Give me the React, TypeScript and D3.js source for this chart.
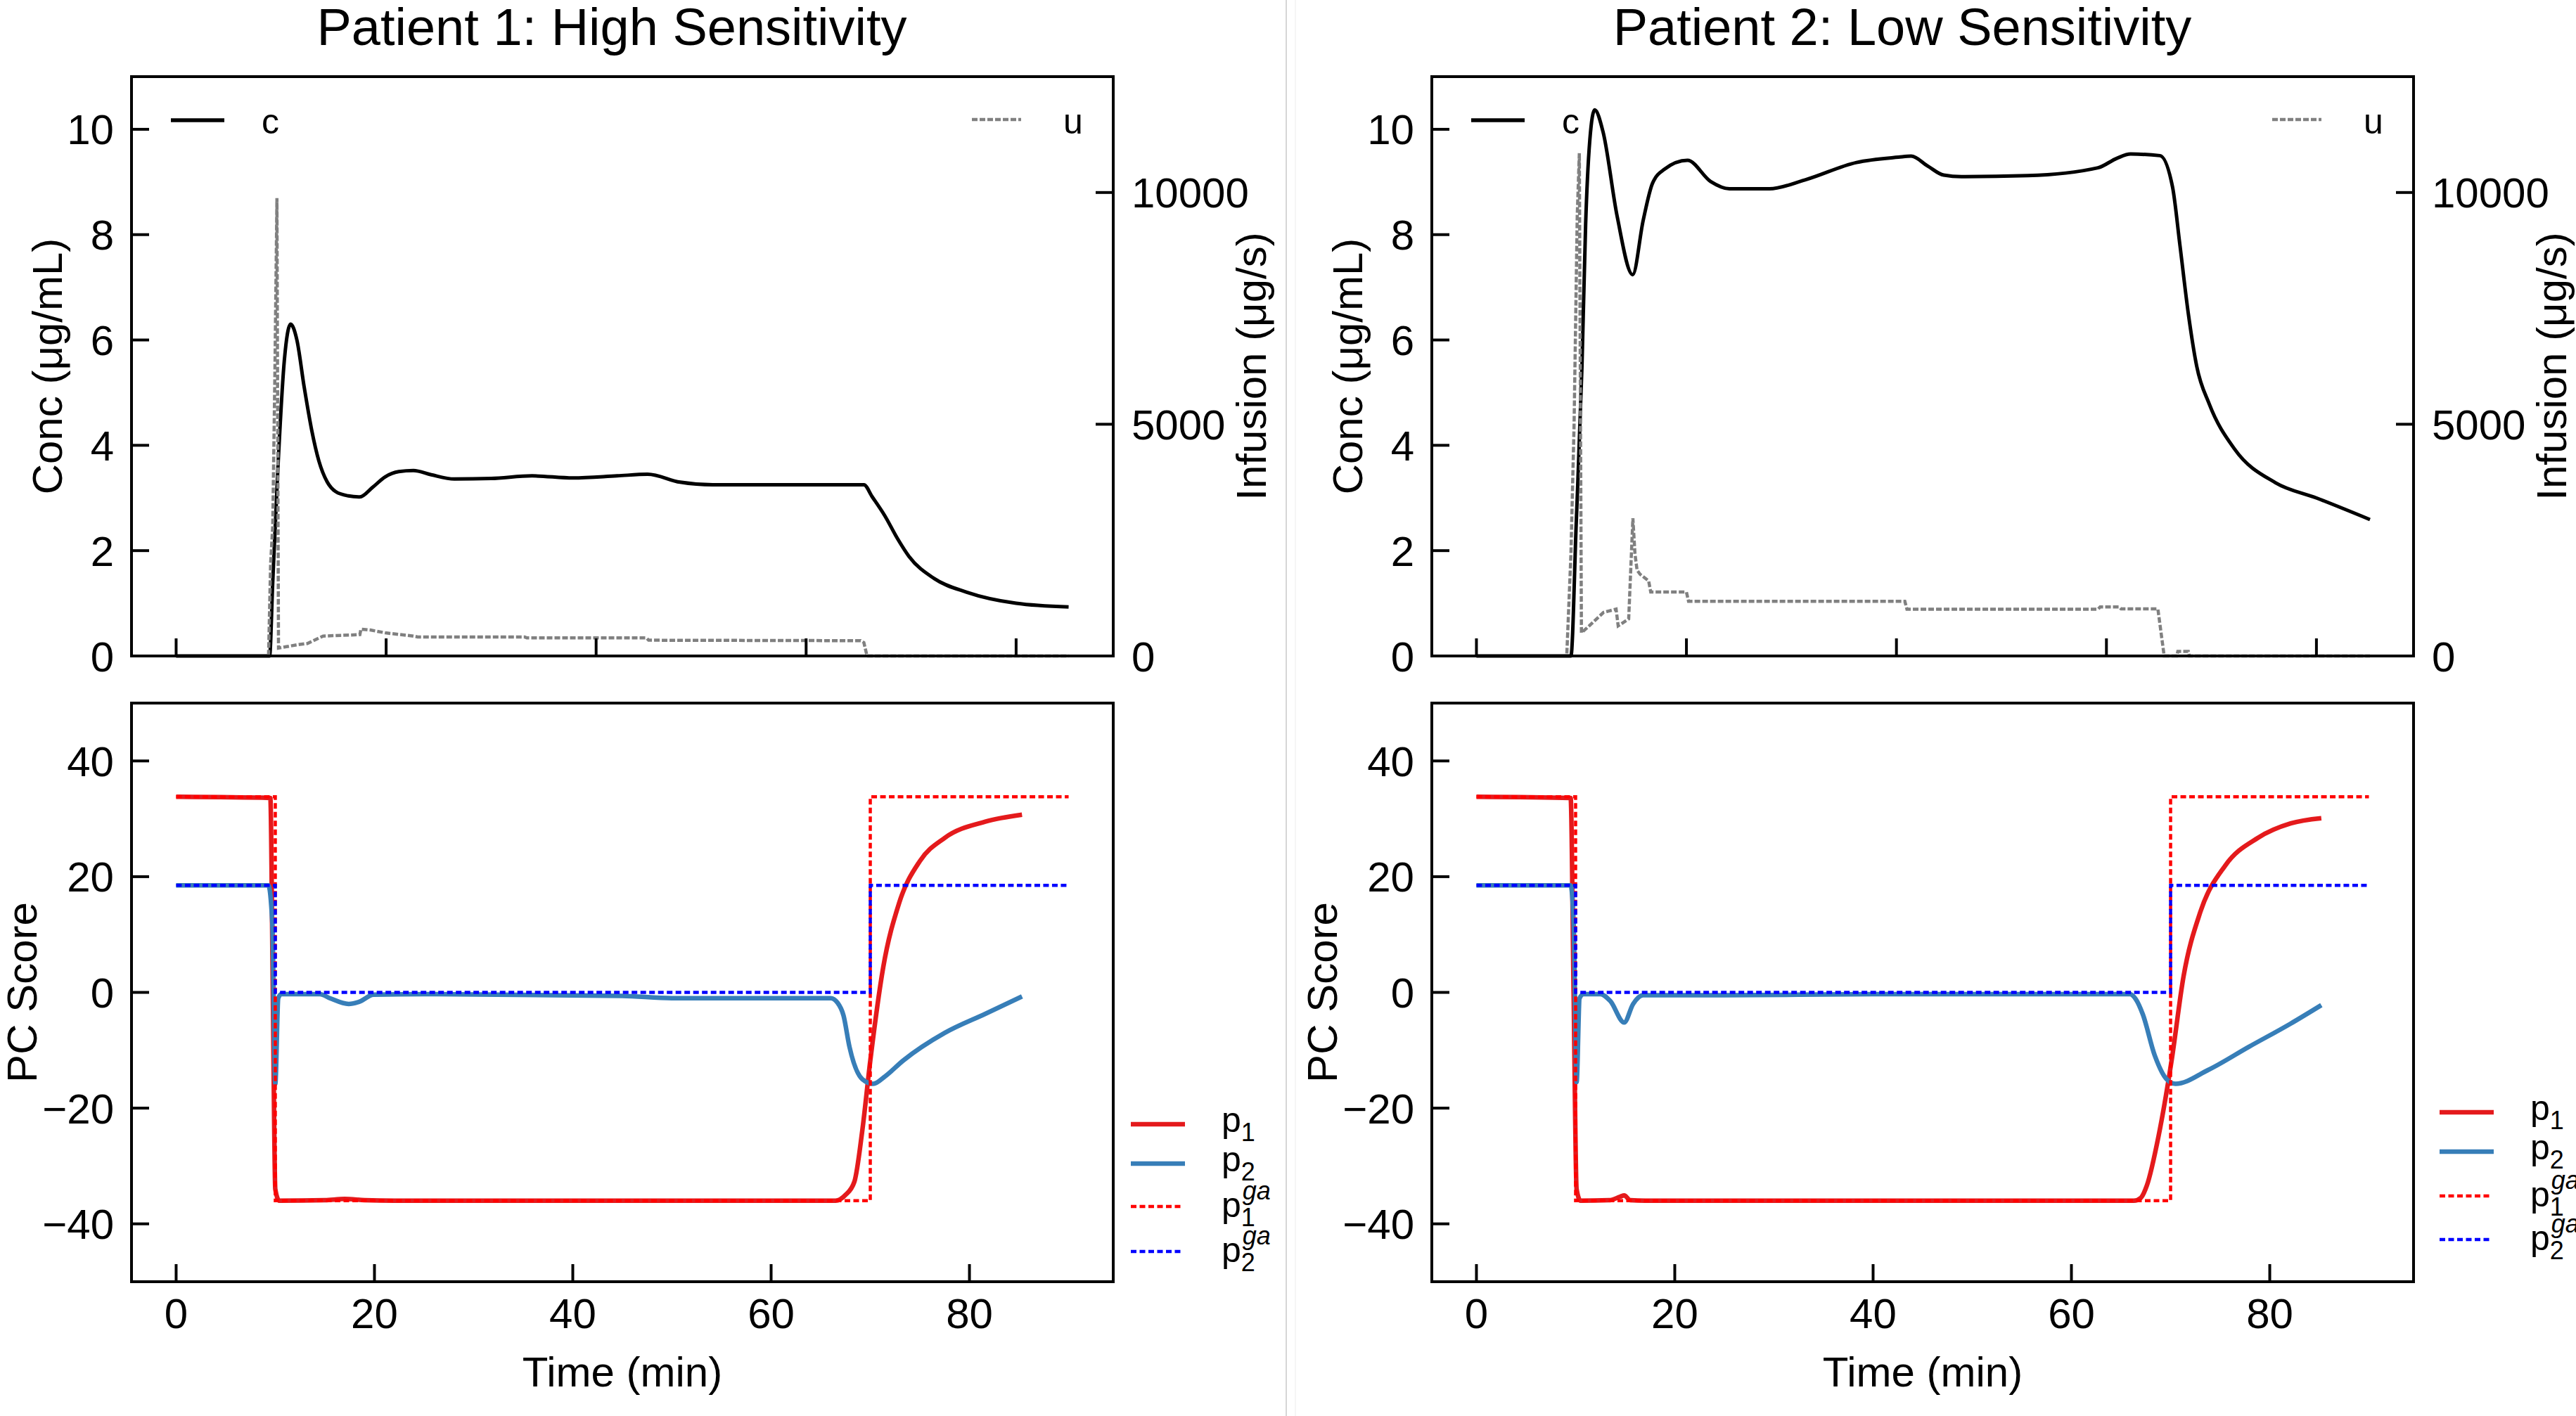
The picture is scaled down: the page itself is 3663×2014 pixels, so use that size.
import React from "react";
import * as d3 from "d3";

type Pt = [number, number];

const W = 3663;
const H = 2014;
const FONT = "'Liberation Sans', Arial, Helvetica, sans-serif";

// ---------- tick labels ----------
const concTicks = [0, 2, 4, 6, 8, 10];
const infusionTicks = [0, 5000, 10000];
const pcTicks = [-40, -20, 0, 20, 40];
const timeTicks = [0, 20, 40, 60, 80];

const titles = ["Patient 1: High Sensitivity", "Patient 2: Low Sensitivity"];

// ---------- Patient 1 ----------
const patient1Conc: Pt[] = [
  [0, 0], [8.9, 0], [9.2, 1.4], [9.7, 3.6], [10.3, 5.6], [10.9, 6.3], [11.5, 6.0],
  [12.2, 5.1], [12.9, 4.3], [13.6, 3.7], [14.4, 3.3], [15.2, 3.12], [16.4, 3.04], [17.5, 3.02],
  [18.7, 3.2], [19.9, 3.4], [21.2, 3.5], [22.6, 3.52], [24.3, 3.44], [26.5, 3.36],
  [30, 3.37], [33.9, 3.42], [37.8, 3.38], [42, 3.42], [44.9, 3.45], [48, 3.3],
  [51.1, 3.25], [65.5, 3.25], [66.3, 3.02], [67.5, 2.66], [68.7, 2.23], [69.8, 1.89],
  [72.2, 1.47], [75.3, 1.21], [80, 1.0], [85, 0.93],
];
const patient1Infusion: Pt[] = [
  [0, 0], [8.8, 0], [9.0, 2000], [9.2, 2800], [9.4, 6000], [9.6, 9880], [9.75, 170],
  [10.5, 200], [11.5, 240], [12.5, 270], [14.0, 430], [17.5, 460], [17.6, 580],
  [18.5, 560], [19.9, 500], [22.6, 430], [23, 410], [33.2, 410], [33.4, 390],
  [44.8, 390], [45, 340], [65.2, 330], [65.5, 290], [65.8, 0], [85, 0],
];
const patient1P1: Pt[] = [
  [0, 33.8], [9.5, 33.6], [9.75, 0], [10.0, -34], [10.4, -36.0], [15, -35.9],
  [17, -35.7], [19, -35.9], [22, -36.0], [66.5, -36.0], [67.5, -35], [68.4, -32.7],
  [69.2, -23.8], [70.0, -11.8], [71.3, 4.3], [72.9, 15.4], [75, 22.7], [77.5, 26.7],
  [81.6, 29.5], [85.3, 30.7],
];
const patient1P2: Pt[] = [
  [0, 18.5], [9.3, 18.5], [9.7, 12], [10.0, -15.8], [10.3, -1], [10.6, -0.3],
  [14.5, -0.3], [15.5, -1.0], [17.4, -2.0], [18.5, -1.6], [19.9, -0.4], [25, -0.3],
  [45, -0.6], [50, -1.0], [66, -1.0], [66.7, -1.8], [67.3, -4], [67.9, -9.4],
  [69.2, -15], [70.3, -15.8], [71.5, -14.5], [73.3, -11.8], [77.5, -7.0],
  [81.6, -3.7], [85.3, -0.7],
];

// ---------- Patient 2 ----------
const patient2Conc: Pt[] = [
  [0, 0], [9.0, 0], [9.5, 2.5], [10.05, 5.5], [10.4, 8.2], [10.8, 9.8], [11.26, 10.37],
  [12.06, 9.95], [13.4, 8.35], [14.88, 7.24], [15.88, 8.27], [16.76, 8.97],
  [17.9, 9.24], [20.1, 9.41], [22.3, 9.01], [24.1, 8.87], [27.9, 8.87], [31.3, 9.04],
  [36.2, 9.37], [40.2, 9.47], [41.4, 9.49], [43, 9.3], [44.5, 9.13], [46.2, 9.1],
  [52.5, 9.12], [59.2, 9.27], [61, 9.45], [62.3, 9.53], [65.1, 9.5], [66.3, 8.9],
  [67, 7.8], [67.8, 6.5], [68.6, 5.5], [69.8, 4.78], [72.2, 3.93], [76.1, 3.29],
  [80, 3.0], [85.1, 2.59],
];
const patient2Infusion: Pt[] = [
  [0, 0], [8.6, 0], [9.0, 2200], [9.3, 5000], [9.6, 9500], [9.8, 10850], [10.0, 500],
  [10.5, 600], [12.1, 940], [13.3, 1010], [13.5, 650], [14.5, 800], [14.9, 2970],
  [15.1, 2200], [15.3, 1850], [15.6, 1760], [16.4, 1620], [16.6, 1380], [20.0, 1380],
  [20.2, 1180], [40.8, 1180], [41.0, 1010], [59.2, 1010], [59.4, 1060], [61.2, 1060],
  [61.4, 1015], [64.9, 1015], [65.5, 0], [66.7, 0], [66.8, 100], [67.8, 100],
  [67.9, 0], [85.1, 0],
];
const patient2P1: Pt[] = [
  [0, 33.8], [9.5, 33.6], [9.8, 0], [10.1, -34], [10.5, -36.0], [13.5, -35.9],
  [14.5, -35.3], [14.9, -35.1], [15.5, -35.9], [17, -36.0], [66.3, -36.0],
  [67.0, -35.5], [67.6, -33.4], [68.8, -24.7], [70.1, -11.8], [71.3, 2.7],
  [73.0, 13.9], [75.5, 21.9], [78.8, 26.7], [82.1, 29.2], [85.2, 30.1],
];
const patient2P2: Pt[] = [
  [0, 18.5], [9.5, 18.5], [9.8, 12], [10.1, -15.5], [10.4, -1], [10.8, -0.3],
  [12.5, -0.3], [13.5, -1.5], [14.9, -5.2], [15.8, -2.0], [16.8, -0.5], [25, -0.5],
  [40, -0.3], [65.9, -0.3], [66.5, -1.2], [67.2, -3.8], [68.4, -10.9], [69.6, -15.0],
  [70.5, -15.8], [73.8, -13.4], [77.9, -9.4], [82.1, -5.4], [85.2, -2.2],
];

// ---------- GA reference (same for both patients) ----------
const gaSwitchTimes = [10, 70];
const gaEndTime = 90;
const p1GaLevels = [33.8, -36.0];
const p2GaLevels = [18.5, 0];

function gaPath(levels: number[]): Pt[] {
  const [hi, lo] = levels;
  const [t1, t2] = gaSwitchTimes;
  return [[0, hi], [t1, hi], [t1, lo], [t2, lo], [t2, hi], [gaEndTime, hi]];
}

const RED = "#e41a1c";
const BLUE = "#377eb8";

const TOP_Y0 = 109;
const TOP_Y1 = 933;
const BOT_Y0 = 1000;
const BOT_Y1 = 1823;

const TICK_FS = 60;
const LEG_FS = 50;
const SUB_FS = 36;
const GA_DASH = "8 4.5";
const U_DASH = "8 3";

interface PanelProps {
  left: number;
  right: number;
  titleX: number;
  title: string;
  conc: Pt[];
  inf: Pt[];
  p1: Pt[];
  p2: Pt[];
  legX: number;
  legTextX: number;
  legRows: number[];
}

function Sub({ x, y, base, sub, sup }: { x: number; y: number; base: string; sub: string; sup?: string }) {
  const pW = 0.556 * LEG_FS;
  return (
    <g>
      <text x={x} y={y} fontSize={LEG_FS}>{base}</text>
      <text x={x + pW} y={y + 13} fontSize={SUB_FS}>{sub}</text>
      {sup && (
        <text x={x + pW + 2} y={y - 25} fontSize={SUB_FS} fontStyle="italic">{sup}</text>
      )}
    </g>
  );
}

function Panel(props: PanelProps) {
  const { left, right, titleX, title, conc, inf, p1, p2, legX, legTextX, legRows } = props;
  const xT = d3.scaleLinear().domain([-4.25, 89.25]).range([left, right]);
  const xB = d3.scaleLinear().domain([-4.5, 94.5]).range([left, right]);
  const yC = d3.scaleLinear().domain([0, 11]).range([TOP_Y1, TOP_Y0]);
  const yU = d3.scaleLinear().domain([0, 12500]).range([TOP_Y1, TOP_Y0]);
  const yP = d3.scaleLinear().domain([-50, 50]).range([BOT_Y1, BOT_Y0]);

  const smoothTop = d3.line<Pt>().x((d) => xT(d[0])).y((d) => yC(d[1])).curve(d3.curveMonotoneX);
  const linU = d3.line<Pt>().x((d) => xT(d[0])).y((d) => yU(d[1]));
  const smoothBot = d3.line<Pt>().x((d) => xB(d[0])).y((d) => yP(d[1])).curve(d3.curveMonotoneX);
  const linBot = d3.line<Pt>().x((d) => xB(d[0])).y((d) => yP(d[1]));

  const cx = (left + right) / 2;
  const tickLen = 25;
  const tw = 4;
  const fmt = (v: number) => (v < 0 ? "\u2212" + Math.abs(v) : String(v));

  return (
    <g>
      <text x={titleX} y={64} fontSize={74} textAnchor="middle">{title}</text>

      {/* ---------- top panel ---------- */}
      <path d={smoothTop(conc) || ""} fill="none" stroke="#000" strokeWidth={5} strokeLinejoin="round" />
      <path d={linU(inf) || ""} fill="none" stroke="#808080" strokeWidth={4.5} strokeDasharray={U_DASH} />
      <rect x={left} y={TOP_Y0} width={right - left} height={TOP_Y1 - TOP_Y0} fill="none" stroke="#000" strokeWidth={4} />
      {timeTicks.map((t) => (
        <line key={"tt" + t} x1={xT(t)} x2={xT(t)} y1={TOP_Y1} y2={TOP_Y1 - tickLen} stroke="#000" strokeWidth={tw} />
      ))}
      {concTicks.map((v) => (
        <g key={"ct" + v}>
          <line x1={left} x2={left + tickLen} y1={yC(v)} y2={yC(v)} stroke="#000" strokeWidth={tw} />
          <text x={left - 25} y={yC(v) + 21.5} fontSize={TICK_FS} textAnchor="end">{fmt(v)}</text>
        </g>
      ))}
      {infusionTicks.map((v) => (
        <g key={"it" + v}>
          <line x1={right - tickLen} x2={right} y1={yU(v)} y2={yU(v)} stroke="#000" strokeWidth={tw} />
          <text x={right + 26} y={yU(v) + 21.5} fontSize={TICK_FS} textAnchor="start">{fmt(v)}</text>
        </g>
      ))}
      <text transform={`translate(${left - 99},${(TOP_Y0 + TOP_Y1) / 2}) rotate(-90)`} fontSize={TICK_FS} textAnchor="middle">Conc (μg/mL)</text>
      <text transform={`translate(${right + 217},${(TOP_Y0 + TOP_Y1) / 2}) rotate(-90)`} fontSize={TICK_FS} textAnchor="middle">Infusion (μg/s)</text>
      {/* top legends */}
      <line x1={left + 56} x2={left + 132} y1={171} y2={171} stroke="#000" strokeWidth={5.5} />
      <text x={left + 185} y={190} fontSize={LEG_FS}>c</text>
      <line x1={right - 201} x2={right - 131} y1={170} y2={170} stroke="#808080" strokeWidth={4.5} strokeDasharray={U_DASH} />
      <text x={right - 71} y={190} fontSize={LEG_FS}>u</text>

      {/* ---------- bottom panel ---------- */}
      <path d={smoothBot(p1) || ""} fill="none" stroke={RED} strokeWidth={6.5} strokeLinejoin="round" />
      <path d={smoothBot(p2) || ""} fill="none" stroke={BLUE} strokeWidth={6.5} strokeLinejoin="round" />
      <path d={linBot(gaPath(p1GaLevels)) || ""} fill="none" stroke="#ff0000" strokeWidth={4.5} strokeDasharray={GA_DASH} />
      <path d={linBot(gaPath(p2GaLevels)) || ""} fill="none" stroke="#0000ff" strokeWidth={4.5} strokeDasharray={GA_DASH} />
      <rect x={left} y={BOT_Y0} width={right - left} height={BOT_Y1 - BOT_Y0} fill="none" stroke="#000" strokeWidth={4} />
      {timeTicks.map((t) => (
        <g key={"bt" + t}>
          <line x1={xB(t)} x2={xB(t)} y1={BOT_Y1} y2={BOT_Y1 - tickLen} stroke="#000" strokeWidth={tw} />
          <text x={xB(t)} y={BOT_Y1 + 66} fontSize={TICK_FS} textAnchor="middle">{fmt(t)}</text>
        </g>
      ))}
      {pcTicks.map((v) => (
        <g key={"pt" + v}>
          <line x1={left} x2={left + tickLen} y1={yP(v)} y2={yP(v)} stroke="#000" strokeWidth={tw} />
          <text x={left - 25} y={yP(v) + 21.5} fontSize={TICK_FS} textAnchor="end">{fmt(v)}</text>
        </g>
      ))}
      <text transform={`translate(${left - 135},${(BOT_Y0 + BOT_Y1) / 2}) rotate(-90)`} fontSize={TICK_FS} textAnchor="middle">PC Score</text>
      <text x={cx} y={1972} fontSize={TICK_FS} textAnchor="middle">Time (min)</text>

      {/* bottom legend */}
      <line x1={legX} x2={legX + 77} y1={legRows[0]} y2={legRows[0]} stroke={RED} strokeWidth={6.5} />
      <line x1={legX} x2={legX + 77} y1={legRows[1]} y2={legRows[1]} stroke={BLUE} strokeWidth={6.5} />
      <line x1={legX} x2={legX + 72} y1={legRows[2]} y2={legRows[2]} stroke="#ff0000" strokeWidth={4.5} strokeDasharray={GA_DASH} />
      <line x1={legX} x2={legX + 72} y1={legRows[3]} y2={legRows[3]} stroke="#0000ff" strokeWidth={4.5} strokeDasharray={GA_DASH} />
      <Sub x={legTextX} y={legRows[0] + 11} base="p" sub="1" />
      <Sub x={legTextX} y={legRows[1] + 11} base="p" sub="2" />
      <Sub x={legTextX} y={legRows[2] + 15} base="p" sub="1" sup="ga" />
      <Sub x={legTextX} y={legRows[3] + 15} base="p" sub="2" sup="ga" />
    </g>
  );
}

export default function App() {
  return (
    <svg
      width={W}
      height={H}
      viewBox={`0 0 ${W} ${H}`}
      style={{ position: "absolute", left: 0, top: 0, display: "block" }}
      fontFamily={FONT}
    >
      <rect x={0} y={0} width={W} height={H} fill="#fff" />
      <line x1={1829} x2={1829} y1={0} y2={H} stroke="#c8c8c8" strokeWidth={1.5} />
      <line x1={1842} x2={1842} y1={0} y2={H} stroke="#ececec" strokeWidth={1} />
      <Panel
        left={187}
        right={1583}
        titleX={870}
        title={titles[0]}
        conc={patient1Conc}
        inf={patient1Infusion}
        p1={patient1P1}
        p2={patient1P2}
        legX={1608}
        legTextX={1737}
        legRows={[1599, 1655, 1716, 1780]}
      />
      <Panel
        left={2036}
        right={3432}
        titleX={2705}
        title={titles[1]}
        conc={patient2Conc}
        inf={patient2Infusion}
        p1={patient2P1}
        p2={patient2P2}
        legX={3469}
        legTextX={3598}
        legRows={[1582, 1638, 1701, 1763]}
      />
    </svg>
  );
}
